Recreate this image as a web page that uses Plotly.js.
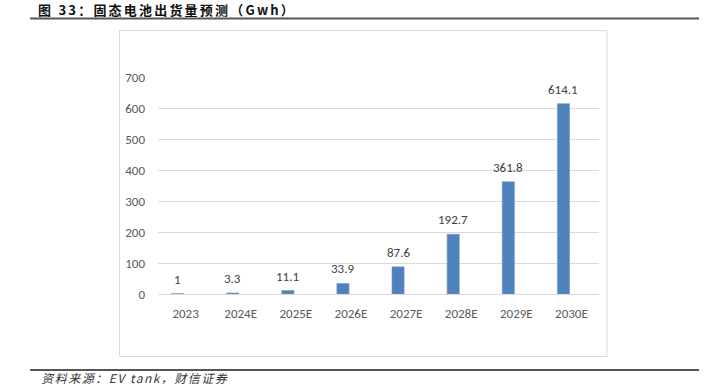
<!DOCTYPE html>
<html>
<head>
<meta charset="utf-8">
<script src="https://cdn.plot.ly/plotly-3.0.1.min.js"></script>
<style>
html,body{margin:0;padding:0;background:#fff;}
#chart{width:711px;height:386px;}
g.annotation[data-index="8"] text{letter-spacing:2.2px;}
g.annotation[data-index="9"] text{letter-spacing:1.5px;}
</style>
</head>
<body>
<div id="chart"></div>
<script>
const categories = ["2023", "2024E", "2025E", "2026E", "2027E", "2028E", "2029E", "2030E"];
const shipments = [1, 3.3, 11.1, 33.9, 87.6, 192.7, 361.8, 614.1];
const labels = ["1", "3.3", "11.1", "33.9", "87.6", "192.7", "361.8", "614.1"];
const yTicks = [0, 100, 200, 300, 400, 500, 600, 700];

const numFont = "Carlito, Lato, 'Open Sans', sans-serif";

const trace = {
  type: "bar",
  x: categories,
  y: shipments,
  marker: {color: "#4F81BD", line: {color: "#6E98CC", width: 0.6}},
  hoverinfo: "none"
};

const annotations = categories.map((c, i) => ({
  x: i, y: shipments[i], xref: "x", yref: "y",
  text: labels[i], showarrow: false, yanchor: "bottom", yshift: 5,
  font: {family: numFont, size: 13, color: "#404040"}
}));

annotations.push({
  xref: "paper", yref: "paper", x: 0.0204, y: 1.313, xanchor: "center", yanchor: "middle",
  text: "<b>图 33：固态电池出货量预测（Gwh）</b>", showarrow: false,
  font: {family: "'Noto Sans CJK SC', sans-serif", size: 13, color: "#111"}
});
annotations.push({
  xref: "paper", yref: "paper", x: -0.052, y: -0.385, xanchor: "center", yanchor: "middle",
  text: "<i>资料来源：EV tank，财信证券</i>", showarrow: false,
  font: {family: "'Noto Sans CJK SC', sans-serif", size: 12, color: "#333"}
});

const shift = 0.145;
const layout = {
  width: 711, height: 386,
  margin: {l: 158, r: 112, t: 77, b: 92},
  paper_bgcolor: "#fff", plot_bgcolor: "#fff",
  showlegend: false,
  bargap: 0.78,
  xaxis: {
    type: "category", range: [-0.5 + shift, categories.length - 0.5 + shift], autorange: false,
    showgrid: false, zeroline: false, showline: false,
    ticks: "", tickfont: {family: numFont, size: 13, color: "#595959"},
    ticklabelstandoff: 10, ticklabelshift: 8
  },
  yaxis: {
    range: [0, 700], autorange: false, tickvals: yTicks, ticktext: yTicks.map(String),
    showgrid: true, gridcolor: "#D9D9D9", gridwidth: 1,
    zeroline: true, zerolinecolor: "#D9D9D9", zerolinewidth: 1, showline: false,
    ticks: "", tickfont: {family: numFont, size: 13, color: "#595959"},
    ticklabelstandoff: 12
  },
  shapes: [
    {type: "rect", xref: "paper", yref: "paper", x0: -0.0873, x1: 1.0181, y0: -0.288, y1: 1.214,
     line: {color: "#D9D9D9", width: 1}, fillcolor: "rgba(0,0,0,0)", layer: "below"},
    {type: "line", xref: "paper", yref: "paper", x0: -0.290, x1: 1.2268, y0: 1.2696, y1: 1.2696,
     line: {color: "#555", width: 2}},
    {type: "line", xref: "paper", yref: "paper", x0: -0.290, x1: 1.2268, y0: -0.350, y1: -0.350,
     line: {color: "#555", width: 2}}
  ],
  annotations: annotations
};

Plotly.newPlot("chart", [trace], layout, {displayModeBar: false, staticPlot: true});
</script>
</body>
</html>
